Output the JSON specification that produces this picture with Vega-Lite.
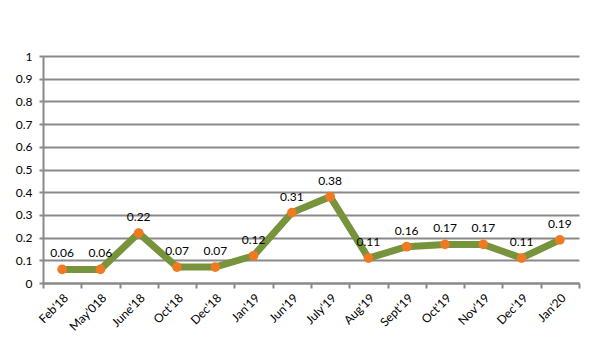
{
  "$schema": "https://vega.github.io/schema/vega-lite/v6.json",
  "width": 536,
  "height": 227,
  "autosize": {"type": "none"},
  "padding": {"left": 43, "top": 56, "right": 25, "bottom": 72},
  "background": "white",
  "config": {
    "view": {"stroke": null},
    "font": "Lato",
    "axis": {"labelFont": "Lato", "labelFontSize": 12, "labelColor": "#000000"}
  },
  "data": {
    "values": [
      {"month": "Feb'18", "value": 0.06},
      {"month": "May'018", "value": 0.06},
      {"month": "June'18", "value": 0.22},
      {"month": "Oct'18", "value": 0.07},
      {"month": "Dec'18", "value": 0.07},
      {"month": "Jan'19", "value": 0.12},
      {"month": "Jun'19", "value": 0.31},
      {"month": "July'19", "value": 0.38},
      {"month": "Aug'19", "value": 0.11},
      {"month": "Sept'19", "value": 0.16},
      {"month": "Oct'19", "value": 0.17},
      {"month": "Nov'19", "value": 0.17},
      {"month": "Dec'19", "value": 0.11},
      {"month": "Jan'20", "value": 0.19}
    ]
  },
  "encoding": {
    "x": {
      "field": "month",
      "type": "ordinal",
      "sort": null,
      "scale": {"type": "band", "paddingInner": 0, "paddingOuter": 0},
      "axis": {
        "title": null,
        "labelAngle": -45,
        "tickBand": "extent",
        "tickSize": 5,
        "tickColor": "#898989",
        "tickWidth": 2,
        "domainColor": "#898989",
        "domainWidth": 2,
        "labelPadding": 4,
        "grid": false
      }
    },
    "y": {
      "field": "value",
      "type": "quantitative",
      "scale": {"domain": [0, 1], "nice": false},
      "axis": {
        "title": null,
        "values": [0, 0.1, 0.2, 0.3, 0.4, 0.5, 0.6, 0.7, 0.8, 0.9, 1],
        "format": "~g",
        "grid": true,
        "gridColor": "#898989",
        "gridWidth": 2,
        "gridOpacity": 1,
        "tickColor": "#898989",
        "tickWidth": 2,
        "tickSize": 4,
        "domainColor": "#898989",
        "domainWidth": 2,
        "labelPadding": 7
      }
    }
  },
  "layer": [
    {"mark": {"type": "line", "color": "#77933C", "strokeWidth": 7, "strokeJoin": "miter"}},
    {"mark": {"type": "circle", "color": "#F07A22", "opacity": 1, "size": 95}},
    {
      "mark": {"type": "text", "dy": -16, "fontSize": 12, "font": "Lato", "color": "#000000"},
      "encoding": {"text": {"field": "value", "type": "quantitative", "format": ".2f"}}
    }
  ]
}
